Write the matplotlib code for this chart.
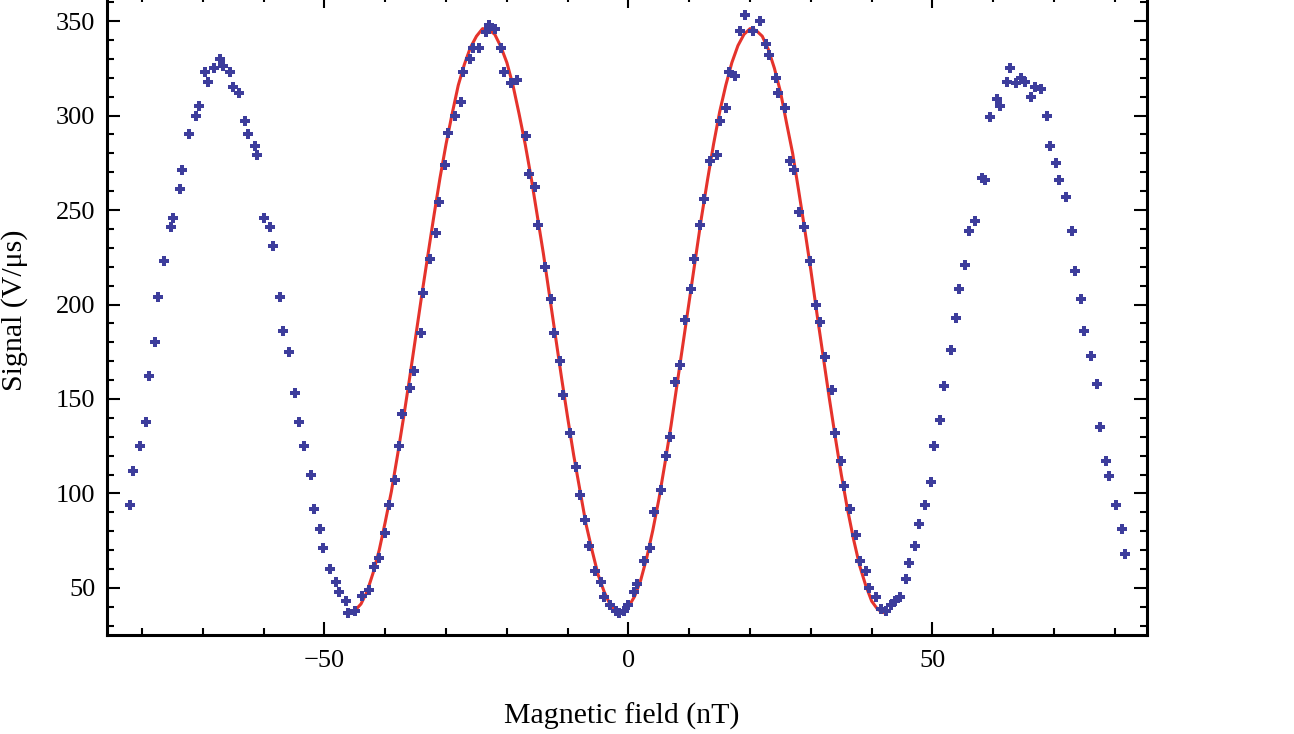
import matplotlib
matplotlib.use('agg')
import matplotlib.pyplot as plt
from matplotlib.ticker import MultipleLocator
import numpy as np

# measured points (nT, V/us)
field_nT = [
    -82.0, -81.5, -80.4, -79.4, -78.9, -77.9, -77.3, -76.4, -75.3, -74.9,
    -73.8, -73.4, -72.3, -71.2, -70.7, -69.6, -69.2, -68.2, -67.2, -66.7,
    -65.6, -65.0, -64.1, -63.0, -62.6, -61.5, -61.1, -60.0, -58.9, -58.4,
    -57.3, -56.9, -55.8, -54.8, -54.2, -53.3, -52.2, -51.8, -50.7, -50.2,
    -49.1, -48.1, -47.6, -46.5, -46.1, -45.0, -43.8, -42.6, -41.9, -41.1,
    -40.0, -39.4, -38.4, -37.8, -37.2, -35.9, -35.3, -34.2, -33.8, -32.7,
    -31.7, -31.2, -30.2, -29.7, -28.6, -27.6, -27.2, -26.1, -25.5, -24.6,
    -23.5, -23.0, -21.9, -20.9, -20.4, -19.4, -18.3, -16.9, -16.4, -15.4,
    -14.9, -13.8, -12.8, -12.3, -11.2, -10.7, -9.7, -8.6, -8.0, -7.1,
    -6.5, -5.5, -4.6, -4.1, -3.1, -2.1, -1.6, -0.8, 0.0, 0.9,
    1.4, 2.5, 3.6, 4.2, 5.3, 6.2, 6.8, 7.7, 8.4, 9.3,
    10.2, 10.7, 11.8, 12.4, 13.4, 14.5, 15.0, 16.0, 16.5, 17.6,
    18.4, 19.1, 20.5, 21.6, 22.6, 23.1, 24.2, 24.6, 25.7, 26.6,
    27.2, 28.0, 28.8, 29.9, 30.8, 31.5, 32.4, 33.4, 33.9, 35.0,
    35.4, 36.5, 37.5, 38.0, 39.1, 39.6, 40.7, 41.6, 42.3, 43.2,
    43.8, 44.7, 45.7, 46.2, 47.2, 47.7, 48.7, 49.8, 50.3, 51.3,
    51.9, 53.0, 53.9, 54.4, 55.4, 56.0, 57.0, 58.1, 58.6, 59.5,
    60.6, 61.1, 62.2, 62.7, 63.7, 64.6, 65.2, 66.2, 66.8, 67.9,
    68.9, 69.3, 70.3, 70.8, 71.9, 73.0, 73.4, 74.5, 74.9, 76.0,
    77.0, 77.5, 78.6, 79.1, 80.1, 81.1, 81.6]
signal = [
    94, 112, 125, 138, 162, 180, 204, 223, 241, 246,
    261, 271, 290, 300, 305, 323, 318, 325, 330, 326,
    323, 315, 312, 297, 290, 284, 279, 246, 241, 231,
    204, 186, 175, 153, 138, 125, 110, 92, 81, 71,
    60, 53, 48, 43, 37, 38, 46, 49, 61, 66,
    79, 94, 107, 125, 142, 156, 165, 185, 206, 224,
    238, 254, 274, 291, 300, 307, 323, 330, 336, 336,
    344, 348, 346, 336, 323, 317, 319, 289, 269, 262,
    242, 220, 203, 185, 170, 152, 132, 114, 99, 86,
    72, 59, 53, 45, 41, 38, 37, 38, 41, 48,
    52, 64, 71, 90, 102, 120, 130, 159, 168, 192,
    208, 224, 242, 256, 276, 279, 297, 304, 323, 321,
    345, 353, 345, 350, 338, 332, 320, 312, 304, 276,
    271, 249, 241, 223, 200, 191, 172, 155, 132, 117,
    104, 92, 78, 64, 59, 50, 45, 39, 38, 41,
    43, 45, 55, 63, 72, 84, 94, 106, 125, 139,
    157, 176, 193, 208, 221, 239, 244, 267, 266, 299,
    309, 305, 318, 325, 317, 320, 318, 310, 315, 314,
    300, 284, 275, 266, 257, 239, 218, 203, 186, 173,
    158, 135, 117, 109, 94, 81, 68]

# fitted curve, read every 1 nT from -46 to 42
fit_field = list(range(-46, 43))
fit_signal = [
    37, 38, 41.5, 48, 58, 70, 85, 101, 120, 140,
    161, 183, 205, 226, 247, 267, 285, 301, 316, 327,
    336, 342, 346, 345.5, 343, 336.5, 328, 316, 301, 285,
    267, 247, 227, 205, 183, 161, 140, 120, 102, 84,
    70, 57, 48, 41, 38, 37, 40, 45.5, 54, 66,
    80.5, 97, 116, 136, 158, 180, 202, 224, 246, 266,
    285, 302, 316, 328, 337, 343, 346, 345, 342, 335,
    325, 312.5, 296, 280, 260, 239.5, 218, 195, 173, 151,
    130, 110, 92, 76, 62, 51.5, 43, 38.6, 37]

plt.rcParams['font.family'] = ['Liberation Serif', 'DejaVu Serif']

W, H = 1294, 734
fig = plt.figure(figsize=(W / 100, H / 100), dpi=100)
ax = fig.add_axes([107 / W, 99 / H, 1040 / W, 640 / H])

ax.plot(fit_field, fit_signal, color='#e5332c', lw=2.2, zorder=2)
ax.plot(field_nT, signal, ls='none', marker='P', ms=6.5, mew=0,
        color='#3d3d9c', zorder=3)

ax.set_xlim(-85.77, 85.28)
ax.set_ylim(25.1, 363.8)

ax.set_xticks([-50, 0, 50])
ax.xaxis.set_minor_locator(MultipleLocator(10))
ax.set_yticks(np.arange(50, 351, 50))
ax.yaxis.set_minor_locator(MultipleLocator(10))

ax.tick_params(which='both', direction='in', top=True, right=True,
               width=1.5, labelsize=19)
ax.tick_params(which='major', length=9.5)
ax.tick_params(which='minor', length=5)
ax.tick_params(axis='x', pad=11)
ax.tick_params(axis='y', pad=8.5)
for s in ax.spines.values():
    s.set_linewidth(2.2)

ax.set_xlabel('Magnetic field (nT)', fontsize=21.5, va='center')
ax.xaxis.set_label_coords((622 - 107) / 1040, (635 - 716) / 640)
ax.set_ylabel('Signal (V/\u03bcs)', fontsize=21.5, va='center')
ax.yaxis.set_label_coords((15 - 107) / 1040, (635 - 310) / 640)

plt.savefig('out.png', dpi=100)
plt.close()
